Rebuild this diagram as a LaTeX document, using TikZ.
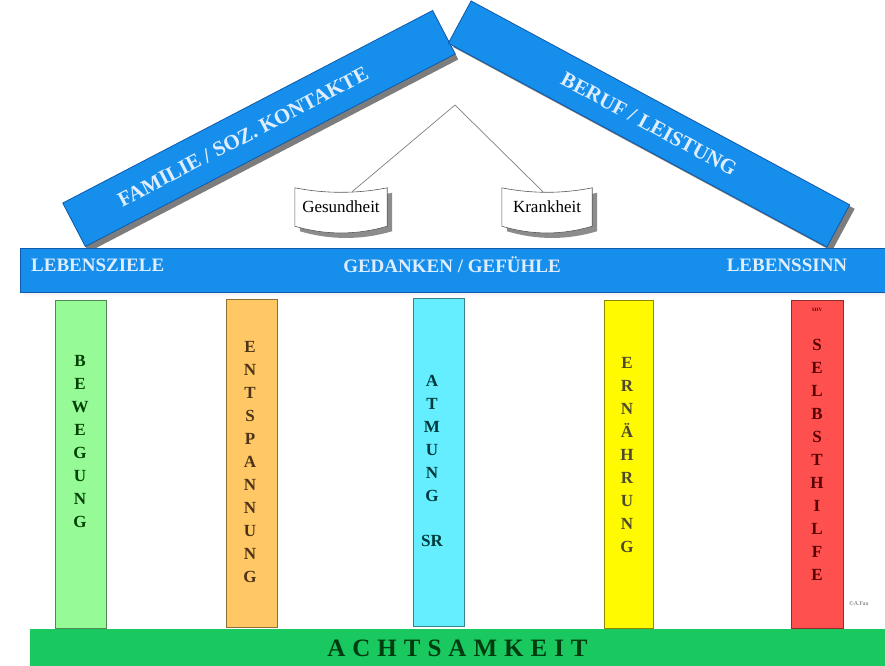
\documentclass[tikz,border=0pt]{standalone}
\usepackage{fontspec}
\setmainfont{Liberation Serif}
\usetikzlibrary{calc,backgrounds}
\definecolor{beamblue}{RGB}{22,142,235}
\definecolor{beamedge}{RGB}{15,90,170}
\definecolor{beamtext}{RGB}{222,238,255}
\definecolor{shade}{RGB}{125,125,125}
\definecolor{pgreen}{RGB}{150,250,150}
\definecolor{porange}{RGB}{255,200,100}
\definecolor{pcyan}{RGB}{100,238,255}
\definecolor{pyellow}{RGB}{255,250,0}
\definecolor{pred}{RGB}{255,80,80}
\definecolor{basegreen}{RGB}{25,200,95}
\begin{document}
\begin{tikzpicture}[x=1pt,y=-1pt,
  beam/.style={draw=beamedge, line width=0.8pt, fill=beamblue, inner sep=0pt},
  beamshadow/.style={fill=shade, draw=none, inner sep=0pt},
  rooflabel/.style={text=beamtext, font=\fontsize{21}{24}\selectfont\bfseries},
  beamlabel/.style={text=beamtext, font=\fontsize{19}{22}\selectfont\bfseries, inner sep=0pt},
  pillar/.style={draw=#1!55!black, line width=0.7pt, fill=#1, minimum width=51pt, minimum height=328pt, inner sep=0pt},
  stack/.style={text=#1, font=\fontsize{17}{23}\selectfont\bfseries, align=center, inner sep=0pt},
  scrollbox/.style={minimum width=92pt, minimum height=38pt, inner sep=0pt, font=\fontsize{17}{20}\selectfont},
  scrollline/.style={draw=black!65, line width=0.6pt, fill=white},
  scrollshadow/.style={fill=black!45, draw=none},
  thinline/.style={draw=black!50, line width=0.7pt}
]
\useasboundingbox (0,0) rectangle (885,665);
\begin{scope}[on background layer]
\fill[white] (0,0) rectangle (885,665);
\end{scope}

% roof beams
\node[beamshadow, rotate=27.5, minimum width=417pt, minimum height=49pt] (roofLs) at (262,134) {};
\node[beam, rotate=27.5, minimum width=417pt, minimum height=49pt, rooflabel] (roofL) at (259,128.5) {FAMILIE / SOZ. KONTAKTE\hspace*{36pt}};
\node[beamshadow, rotate=-28.3, minimum width=430pt, minimum height=48pt] (roofRs) at (654,128) {};
\node[beam, rotate=-28.3, minimum width=430pt, minimum height=48pt, rooflabel] (roofR) at (649,124) {BERUF / LEISTUNG};

% Gesundheit / Krankheit
\coordinate (apex) at (455,105);
\node[scrollbox] (ges) at (341,207) {Gesundheit};
\node[scrollbox, minimum width=90pt] (kra) at (547,207) {Krankheit};
\begin{scope}[on background layer]
\fill[scrollshadow] ($(ges.north west)+(5,5)$) .. controls +(30,6) and +(-30,6) .. ($(ges.north east)+(5,5)$) -- ($(ges.south east)+(5,5)$) .. controls +(-30,9) and +(30,9) .. ($(ges.south west)+(5,5)$) -- cycle;
\path[scrollline] (ges.north west) .. controls +(30,6) and +(-30,6) .. (ges.north east) -- (ges.south east) .. controls +(-30,9) and +(30,9) .. (ges.south west) -- cycle;
\fill[scrollshadow] ($(kra.north west)+(5,5)$) .. controls +(30,6) and +(-30,6) .. ($(kra.north east)+(5,5)$) -- ($(kra.south east)+(5,5)$) .. controls +(-30,9) and +(30,9) .. ($(kra.south west)+(5,5)$) -- cycle;
\path[scrollline] (kra.north west) .. controls +(30,6) and +(-30,6) .. (kra.north east) -- (kra.south east) .. controls +(-30,9) and +(30,9) .. (kra.south west) -- cycle;
\end{scope}
\draw[thinline] (apex) -- ([xshift=11pt,yshift=-4pt]ges.north);
\draw[thinline] (apex) -- ([xshift=-4pt,yshift=-4pt]kra.north);

% main beam
\fill[shade] (24,253) rectangle (889,297);
\node[beam, minimum width=865pt, minimum height=44pt, anchor=north west] (main) at (20,248) {};
\node[beamlabel, anchor=west] (lz) at (31,265) {LEBENSZIELE};
\node[beamlabel] (gg) at (452,265) {GEDANKEN / GEFÜHLE};
\node[beamlabel] (ls) at (787,265) {LEBENSSINN};

% pillars
\node[pillar=pgreen] (p1) at (80.5,464) {};
\node[pillar=porange] (p2) at (251.5,463.5) {};
\node[pillar=pcyan] (p3) at (438.5,462) {};
\node[pillar=pyellow, minimum width=49pt] (p4) at (628.5,464.5) {};
\node[pillar=pred, minimum width=52pt] (p5) at (817,464) {};

\node[stack={green!25!black}] (t1) at (80,441.5) {B\\E\\W\\E\\G\\U\\N\\G};
\node[stack={brown!40!black}] (t2) at (250,462.5) {E\\N\\T\\S\\P\\A\\N\\N\\U\\N\\G};
\node[stack={teal!45!black}] (t3) at (432,461) {A\\T\\M\\U\\N\\G\\[22pt]SR};
\node[stack={olive!40!black}] (t4) at (627,455) {E\\R\\N\\Ä\\H\\R\\U\\N\\G};
\node[stack={red!35!black}] (t5) at (817,460) {S\\E\\L\\B\\S\\T\\H\\I\\L\\F\\E};
\node[font=\fontsize{5}{6}\selectfont\bfseries, text=red!40!black, inner sep=0pt] (shv) at (817,310) {SHV};
\node[font=\fontsize{6}{7}\selectfont, text=black!60, anchor=west, inner sep=0pt] (copy) at (849,604) {©A.Fau};

% base
\node[fill=basegreen, minimum width=855pt, minimum height=37pt, anchor=north west, inner sep=0pt] (base) at (30,629) {};
\node[font=\fontsize{25}{28}\selectfont\bfseries, text={rgb,255:red,0;green,60;blue,15}, inner sep=0pt] (achts) at (457.5,648) {A\hspace{7pt}C\hspace{7pt}H\hspace{7pt}T\hspace{7pt}S\hspace{7pt}A\hspace{7pt}M\hspace{7pt}K\hspace{7pt}E\hspace{7pt}I\hspace{7pt}T};
\end{tikzpicture}
\end{document}
